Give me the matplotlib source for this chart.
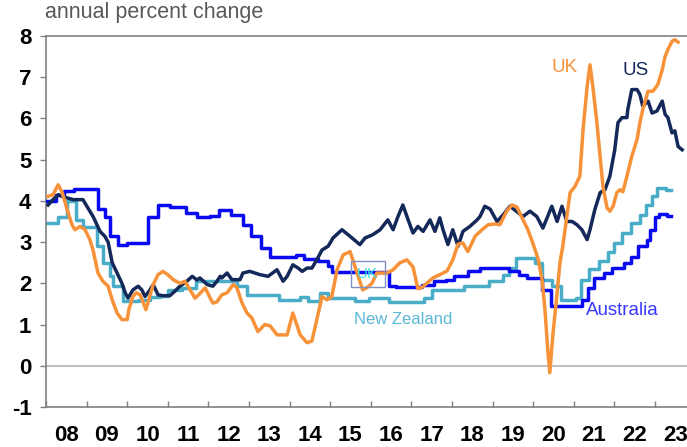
import matplotlib
matplotlib.use('Agg')
import matplotlib.pyplot as plt
import numpy as np

plt.rcParams['font.family'] = ['Liberation Sans', 'DejaVu Sans']
plt.rcParams['axes.unicode_minus'] = False

# wage growth, annual percent change (decimal years)
us_t = [2008.05, 2008.17, 2008.30, 2008.42, 2008.67, 2008.91, 2009.03, 2009.16, 2009.33, 2009.45,
        2009.53, 2009.63, 2009.75, 2009.87, 2009.95, 2010.02, 2010.14, 2010.27, 2010.36, 2010.44,
        2010.56, 2010.64, 2010.76, 2010.88, 2011.05, 2011.13, 2011.30, 2011.47, 2011.60, 2011.72,
        2011.79, 2011.97, 2012.11, 2012.21, 2012.29, 2012.33, 2012.46, 2012.58, 2012.78, 2012.85,
        2013.02, 2013.27, 2013.47, 2013.69, 2013.84, 2013.94, 2014.08, 2014.21, 2014.31, 2014.43,
        2014.55, 2014.67, 2014.80, 2014.95, 2015.07, 2015.29, 2015.49, 2015.73, 2015.86, 2016.05,
        2016.23, 2016.42, 2016.55, 2016.67, 2016.79, 2016.92, 2017.04, 2017.16, 2017.29, 2017.46,
        2017.58, 2017.70, 2017.78, 2017.90, 2018.02, 2018.15, 2018.27, 2018.44, 2018.62, 2018.69,
        2018.81, 2018.94, 2019.11, 2019.26, 2019.43, 2019.75, 2019.92, 2020.09, 2020.24, 2020.46,
        2020.59, 2020.71, 2020.83, 2020.96, 2021.08, 2021.20, 2021.33, 2021.40, 2021.52, 2021.65,
        2021.77, 2021.89, 2022.01, 2022.09, 2022.19, 2022.31, 2022.33, 2022.43, 2022.56, 2022.63,
        2022.70, 2022.83, 2022.93, 2023.05, 2023.18, 2023.25, 2023.32, 2023.42, 2023.49, 2023.57,
        2023.67]
us_v = [3.90, 4.03, 4.15, 4.10, 4.03, 4.03, 3.83, 3.62, 3.26, 3.14,
        3.00, 2.50, 2.25, 2.00, 1.77, 1.64, 1.84, 1.93, 1.84, 1.68,
        1.84, 1.97, 1.72, 1.70, 1.70, 1.77, 1.93, 2.05, 2.17, 2.08,
        2.13, 1.97, 1.93, 2.05, 2.17, 2.13, 2.25, 2.09, 2.09, 2.25,
        2.29, 2.21, 2.17, 2.33, 2.05, 2.17, 2.45, 2.37, 2.29, 2.37,
        2.37, 2.57, 2.81, 2.90, 3.10, 3.30, 3.14, 2.94, 3.10, 3.18,
        3.30, 3.54, 3.30, 3.62, 3.90, 3.54, 3.22, 3.38, 3.26, 3.54,
        3.26, 3.59, 3.30, 2.94, 3.30, 2.90, 3.26, 3.38, 3.54, 3.62,
        3.87, 3.80, 3.50, 3.66, 3.87, 3.62, 3.75, 3.62, 3.34, 3.87,
        3.50, 3.87, 3.50, 3.50, 3.42, 3.30, 3.06, 3.30, 3.79, 4.20,
        4.27, 4.60, 5.24, 5.90, 6.02, 6.02, 6.21, 6.70, 6.70, 6.58,
        6.30, 6.42, 6.13, 6.18, 6.42, 6.10, 6.02, 5.65, 5.70, 5.32,
        5.24]

uk_t = [2008.05, 2008.17, 2008.30, 2008.40, 2008.52, 2008.64, 2008.71, 2008.84, 2008.96, 2009.08,
        2009.16, 2009.28, 2009.40, 2009.53, 2009.63, 2009.75, 2009.87, 2010.00, 2010.04, 2010.14,
        2010.22, 2010.32, 2010.46, 2010.56, 2010.64, 2010.76, 2010.88, 2011.00, 2011.13, 2011.30,
        2011.42, 2011.55, 2011.67, 2011.79, 2011.92, 2012.04, 2012.11, 2012.21, 2012.33, 2012.46,
        2012.61, 2012.70, 2012.83, 2012.95, 2013.07, 2013.22, 2013.39, 2013.52, 2013.69, 2013.94,
        2014.08, 2014.26, 2014.43, 2014.55, 2014.67, 2014.80, 2014.92, 2015.04, 2015.17, 2015.32,
        2015.49, 2015.61, 2015.80, 2015.91, 2016.03, 2016.15, 2016.40, 2016.55, 2016.72, 2016.89,
        2017.04, 2017.16, 2017.26, 2017.38, 2017.53, 2017.70, 2017.88, 2018.02, 2018.15, 2018.27,
        2018.39, 2018.57, 2018.74, 2018.89, 2019.06, 2019.18, 2019.35, 2019.48, 2019.60, 2019.75,
        2019.87, 2019.99, 2020.12, 2020.22, 2020.29, 2020.36, 2020.41, 2020.49, 2020.59, 2020.66,
        2020.73, 2020.83, 2020.91, 2021.03, 2021.15, 2021.23, 2021.33, 2021.40, 2021.47, 2021.57,
        2021.65, 2021.72, 2021.82, 2021.89, 2021.97, 2022.06, 2022.14, 2022.21, 2022.31, 2022.43,
        2022.56, 2022.63, 2022.70, 2022.83, 2022.95, 2023.07, 2023.18, 2023.25, 2023.32, 2023.42,
        2023.49, 2023.57]
uk_v = [4.11, 4.15, 4.39, 4.20, 3.79, 3.42, 3.30, 3.38, 3.30, 3.06,
        2.80, 2.25, 2.05, 1.93, 1.60, 1.28, 1.12, 1.12, 1.36, 1.68,
        1.77, 1.72, 1.36, 1.70, 1.97, 2.21, 2.29, 2.21, 2.09, 2.00,
        2.05, 1.84, 1.64, 1.75, 1.89, 1.65, 1.52, 1.55, 1.72, 1.77,
        1.97, 1.90, 1.52, 1.28, 1.16, 0.83, 1.00, 0.97, 0.75, 0.75,
        1.28, 0.75, 0.56, 0.60, 1.12, 1.68, 1.60, 1.68, 2.33, 2.69,
        2.77, 2.41, 1.84, 1.90, 2.00, 2.25, 2.25, 2.33, 2.50, 2.57,
        2.40, 1.87, 1.90, 2.00, 2.13, 2.21, 2.30, 2.57, 2.95, 2.98,
        2.77, 3.14, 3.30, 3.42, 3.44, 3.42, 3.75, 3.90, 3.85, 3.54,
        3.30, 2.98, 2.60, 2.09, 1.36, 0.39, -0.17, 0.80, 1.77, 2.50,
        2.90, 3.62, 4.20, 4.35, 4.60, 5.73, 6.78, 7.30, 6.78, 5.90,
        5.08, 4.35, 3.83, 3.75, 3.87, 4.20, 4.27, 4.22, 4.60, 5.08,
        5.49, 5.90, 6.21, 6.66, 6.66, 6.82, 7.18, 7.50, 7.67, 7.87,
        7.91, 7.85]

# stepped series: time each level starts, last entry is the end of the series
au_t = [2008.00, 2008.25, 2008.45, 2008.70, 2009.00, 2009.27, 2009.45, 2009.58, 2009.78, 2010.00,
        2010.50, 2010.75, 2011.05, 2011.45, 2011.72, 2012.05, 2012.25, 2012.55, 2012.85, 2013.05,
        2013.30, 2013.52, 2014.15, 2014.35, 2014.70, 2014.95, 2015.05, 2016.45, 2016.62, 2017.25,
        2017.55, 2017.85, 2018.05, 2018.40, 2018.70, 2019.40, 2019.65, 2019.85, 2020.22, 2020.45,
        2021.20, 2021.35, 2021.50, 2021.75, 2021.95, 2022.25, 2022.42, 2022.58, 2022.80, 2022.88,
        2023.00, 2023.10, 2023.30, 2023.40]
au_v = [3.99, 4.15, 4.23, 4.30, 4.28, 3.80, 3.62, 3.14, 2.92, 2.98,
        3.62, 3.90, 3.86, 3.71, 3.60, 3.63, 3.78, 3.66, 3.42, 3.14,
        2.86, 2.65, 2.69, 2.60, 2.53, 2.41, 2.27, 1.93, 1.90, 1.97,
        2.05, 2.09, 2.17, 2.29, 2.36, 2.30, 2.20, 2.13, 1.84, 1.44,
        1.60, 1.89, 2.13, 2.25, 2.37, 2.50, 2.65, 2.90, 3.06, 3.30,
        3.62, 3.67, 3.63, 3.63]

nz_t = [2008.00, 2008.30, 2008.52, 2008.75, 2008.90, 2009.25, 2009.40, 2009.58, 2009.65, 2009.90,
        2010.30, 2010.56, 2010.80, 2011.00, 2011.35, 2011.70, 2012.70, 2012.95, 2013.75, 2014.25,
        2014.45, 2014.75, 2014.95, 2015.62, 2015.95, 2016.45, 2017.30, 2017.50, 2018.30, 2018.92,
        2019.25, 2019.40, 2019.58, 2020.05, 2020.22, 2020.47, 2020.68, 2021.05, 2021.17, 2021.37,
        2021.62, 2021.85, 2022.00, 2022.20, 2022.42, 2022.62, 2022.78, 2022.92, 2023.06, 2023.28,
        2023.40]
nz_v = [3.47, 3.62, 3.99, 3.54, 3.36, 2.90, 2.50, 2.17, 1.93, 1.56,
        1.60, 1.66, 1.70, 1.84, 1.89, 2.05, 1.93, 1.72, 1.60, 1.68,
        1.56, 1.76, 1.64, 1.56, 1.64, 1.55, 1.64, 1.84, 1.93, 2.05,
        2.21, 2.37, 2.62, 2.50, 2.09, 1.93, 1.60, 1.64, 2.09, 2.35,
        2.55, 2.75, 2.98, 3.23, 3.47, 3.66, 3.90, 4.11, 4.32, 4.27,
        4.27]

years = list(range(2008, 2024))
year_labels = [f'{y % 100:02d}' for y in years]

c_us = '#142859'
c_uk = '#F79239'
c_au = '#0A0AF0'
c_nz = '#4AADC8'

fig = plt.figure(figsize=(6.87, 4.47), dpi=100)
ax = fig.add_axes([0.067, 0.0895, 0.933, 0.83])

ax.axhline(0, color='#BFBFBF', lw=1.5, zorder=1)

ax.step(nz_t, nz_v, where='post', color=c_nz, lw=2.5, zorder=2)
ax.step(au_t, au_v, where='post', color=c_au, lw=2.5, zorder=3)
ax.plot(us_t, us_v, color=c_us, lw=2.5, zorder=4)
ax.plot(uk_t, uk_v, color=c_uk, lw=2.5, zorder=5)

ax.set_xlim(2008, 2023.79)
ax.set_ylim(-1, 8)

ax.set_xticks(years)
ax.set_xticklabels([])
ax.set_xticks([y + 0.5 for y in years], minor=True)
ax.set_xticklabels(year_labels, minor=True)
ax.tick_params(axis='x', which='major', direction='in', length=4.5, width=1, color='#808080')
ax.tick_params(axis='x', which='minor', length=0, pad=13, labelsize=16)

ax.set_yticks(range(-1, 9))
ax.tick_params(axis='y', direction='out', length=4.5, width=1, color='#808080',
               labelsize=16, pad=6)
for lab in ax.get_xticklabels(minor=True) + ax.get_yticklabels():
    lab.set_fontweight('bold')

for side in ['left', 'top', 'bottom']:
    ax.spines[side].set_color('#808080')
    ax.spines[side].set_linewidth(1.2)
ax.spines['right'].set_visible(False)

ax.text(2020.78, 7.23, 'UK', color=c_uk, fontsize=13.5, ha='center', va='center')
ax.text(2022.53, 7.16, 'US', color=c_us, fontsize=13.5, ha='center', va='center')
ax.text(2022.19, 1.33, 'Australia', color='#3838FF', fontsize=13.5, ha='center', va='center')
ax.text(2016.79, 1.12, 'New Zealand', color='#5BB8D6', fontsize=12, ha='center', va='center')

# stray label box left in the source chart
ax.text(2015.93, 2.22, 'UK', color='#33E0E0', fontsize=11, ha='center', va='center', zorder=6,
        bbox=dict(boxstyle='square,pad=0.4', fc='none', ec='#8090C0', lw=1))

fig.text(0.066, 0.995, 'annual percent change', color='#595959', fontsize=15.5,
         ha='left', va='top')

fig.savefig('out.png', dpi=100)
